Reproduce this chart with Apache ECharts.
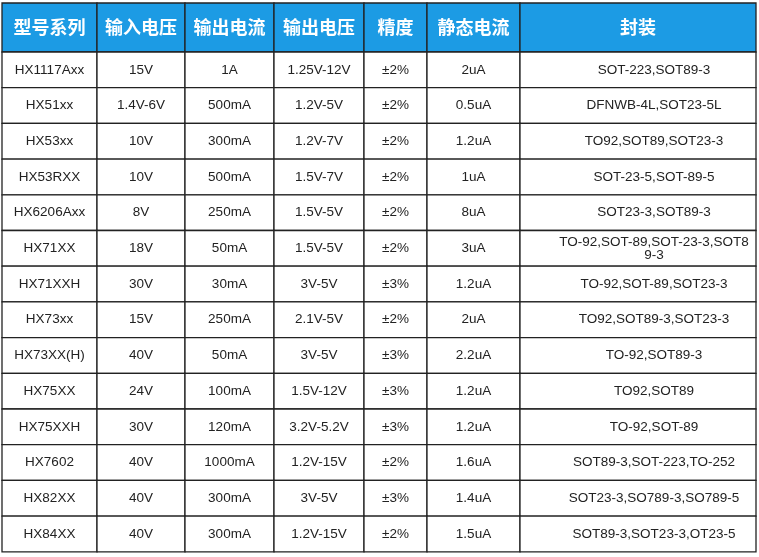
<!DOCTYPE html>
<html><head><meta charset="utf-8">
<script src="https://cdn.jsdelivr.net/npm/echarts@6/dist/echarts.min.js"></script>
<style>html,body{margin:0;background:#fff}#c{width:759px;height:557px}</style>
</head><body><div id="c"></div>
<script>
var headers = ['型号系列','输入电压','输出电流','输出电压','精度','静态电流','封装'];
var models = ['HX1117Axx','HX51xx','HX53xx','HX53RXX','HX6206Axx','HX71XX','HX71XXH','HX73xx','HX73XX(H)','HX75XX','HX75XXH','HX7602','HX82XX','HX84XX'];
var inputV = ['15V','1.4V-6V','10V','10V','8V','18V','30V','15V','40V','24V','30V','40V','40V','40V'];
var outputI = ['1A','500mA','300mA','500mA','250mA','50mA','30mA','250mA','50mA','100mA','120mA','1000mA','300mA','300mA'];
var outputV = ['1.25V-12V','1.2V-5V','1.2V-7V','1.5V-7V','1.5V-5V','1.5V-5V','3V-5V','2.1V-5V','3V-5V','1.5V-12V','3.2V-5.2V','1.2V-15V','3V-5V','1.2V-15V'];
var accuracy = ['±2%','±2%','±2%','±2%','±2%','±2%','±3%','±2%','±3%','±3%','±3%','±2%','±3%','±2%'];
var quiescent = ['2uA','0.5uA','1.2uA','1uA','8uA','3uA','1.2uA','2uA','2.2uA','1.2uA','1.2uA','1.6uA','1.4uA','1.5uA'];
var packages = ['SOT-223,SOT89-3','DFNWB-4L,SOT23-5L','TO92,SOT89,SOT23-3','SOT-23-5,SOT-89-5','SOT23-3,SOT89-3','TO-92,SOT-89,SOT-23-3,SOT8\n9-3','TO-92,SOT-89,SOT23-3','TO92,SOT89-3,SOT23-3','TO-92,SOT89-3','TO92,SOT89','TO-92,SOT-89','SOT89-3,SOT-223,TO-252','SOT23-3,SO789-3,SO789-5','SOT89-3,SOT23-3,OT23-5'];

var colEdges = [2,97,185,274,364,427,520,756];
var colShift = [0,0,0,0,0,0,16];
var headTop = 3, headBottom = 52, rowH = 35.7;
var cols = [models,inputV,outputI,outputV,accuracy,quiescent,packages];
var data = [];
headers.forEach(function(h,c){ data.push([colEdges[c],headTop,colEdges[c+1],headBottom,h,1,0]); });
for (var r=0;r<models.length;r++){
  for (var c=0;c<cols.length;c++){
    var y0 = headBottom + r*rowH;
    data.push([colEdges[c],y0,colEdges[c+1],y0+rowH,cols[c][r],0,colShift[c]]);
  }
}
var chart = echarts.init(document.getElementById('c'));
chart.setOption({
  animation:false,
  grid:{left:0,right:0,top:0,bottom:0},
  xAxis:{type:'value',min:0,max:759,show:false},
  yAxis:{type:'value',min:0,max:557,inverse:true,show:false},
  series:[{
    type:'custom',
    data:data,
    renderItem:function(params,api){
      var p0 = api.coord([api.value(0),api.value(1)]);
      var p1 = api.coord([api.value(2),api.value(3)]);
      var head = api.value(5)===1;
      var txt = data[params.dataIndex][4];
      var multi = txt.indexOf('\n')>=0;
      return {type:'group',children:[
        {type:'rect',shape:{x:p0[0],y:p0[1],width:p1[0]-p0[0],height:p1[1]-p0[1]},
         style:{fill:head?'#1C9BE4':'#fff',stroke:'#222',lineWidth:1.3}},
        {type:'text',x:(p0[0]+p1[0])/2+api.value(6),y:(p0[1]+p1[1])/2,
         style:{text:txt,align:'center',verticalAlign:'middle',
           fill:head?'#fff':'#222',
           font:head?'bold 18px "Noto Sans CJK SC"':'13.5px "Liberation Sans", Arial',
           lineHeight:multi?13:16}}
      ]};
    }
  }]
});
</script></body></html>
